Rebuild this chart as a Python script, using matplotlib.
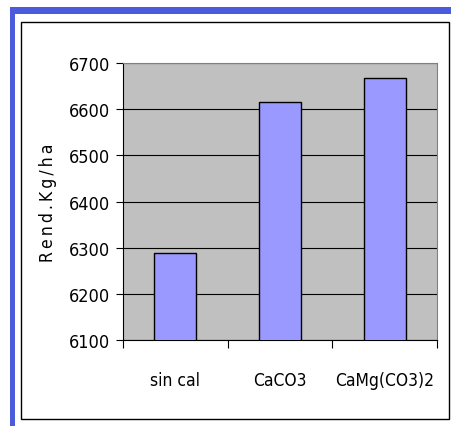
#!/usr/bin/env python
import numpy as np
import matplotlib
matplotlib.use('Agg')
import matplotlib.pyplot as plt
from matplotlib.patches import Rectangle

categories = ['sin cal', 'CaCO3', 'CaMg(CO3)2']
rendimiento = [6288, 6616, 6667]
yticks = [6100, 6200, 6300, 6400, 6500, 6600, 6700]

plt.rcParams['font.family'] = ['DejaVu Sans']
plt.rcParams['font.stretch'] = 'condensed'

fig = plt.figure(figsize=(4.51, 4.27), dpi=100)
W, H = 451.0, 427.0

# blue frame (top and left) + thin black inner frame
blue = '#4B5BDB'
fig.patches.append(Rectangle((10 / W, 1 - 15 / H), 441 / W, 7 / H, transform=fig.transFigure,
                             facecolor=blue, edgecolor='none'))
fig.patches.append(Rectangle((10 / W, 0), 5 / W, 1 - 8 / H, transform=fig.transFigure,
                             facecolor=blue, edgecolor='none'))
fig.patches.append(Rectangle((21 / W, 1 - 420 / H), 428 / W, 397 / H, transform=fig.transFigure,
                             facecolor='none', edgecolor='black', linewidth=1))

ax = fig.add_axes([123 / W, 1 - 341 / H, 314 / W, 277 / H])
ax.set_facecolor('#C0C0C0')

r = np.arange(len(categories))
ax.bar(r, rendimiento, width=0.4, color='#9999FF', edgecolor='black', linewidth=1, zorder=3)

ax.set_ylim(6100, 6700)
ax.set_xlim(-0.5, 2.5)
ax.set_yticks(yticks)
ax.yaxis.grid(True, color='black', linewidth=0.8, zorder=1)
ax.set_axisbelow(True)

# category labels centred, ticks at the boundaries
ax.set_xticks([-0.5, 0.5, 1.5, 2.5])
ax.set_xticklabels([])
ax.set_xticks(r, minor=True)
ax.set_xticklabels(categories, minor=True, fontsize=12.5)
ax.tick_params(axis='x', which='minor', length=0, pad=22)
ax.tick_params(axis='x', which='major', length=6, direction='out')
ax.tick_params(axis='y', length=5, labelsize=13, pad=4)

for s in ['top', 'right']:
    ax.spines[s].set_color('#808080')
for s in ['left', 'bottom']:
    ax.spines[s].set_color('black')

ax.set_ylabel('R\u2009e\u2009n\u2009d\u2009.\u2009K\u2009g\u2009/\u2009h\u2009a', fontsize=12.5, labelpad=9)

plt.savefig('out.png', dpi=100)
